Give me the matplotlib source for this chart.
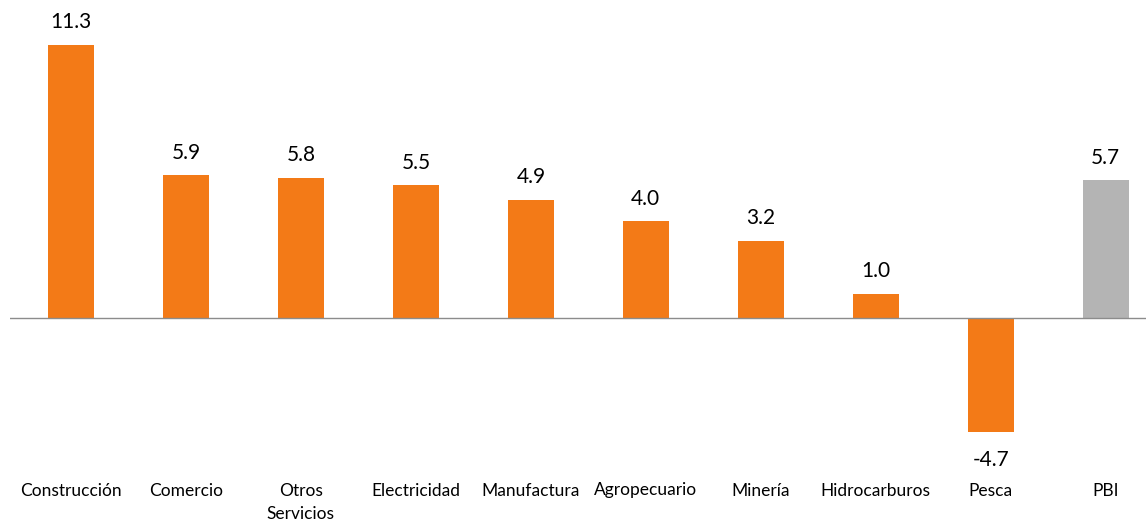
import numpy as np
from matplotlib import pyplot as plt

# Crecimiento por sectores (var. %)
sectores = ["Construcción", "Comercio", "Otros\nServicios", "Electricidad",
            "Manufactura", "Agropecuario", "Minería", "Hidrocarburos",
            "Pesca", "PBI"]
valores = [11.3, 5.9, 5.8, 5.5, 4.9, 4.0, 3.2, 1.0, -4.7, 5.7]

naranja = "#F37A17"
gris = "#B4B4B4"

plt.rcParams["font.family"] = ["Lato", "DejaVu Sans"]

fig = plt.figure(figsize=(11.48, 5.26), dpi=100)
ax = fig.add_axes([10/1148, 1 - 470/526, 1136/1148, 470/526])

x = np.arange(len(sectores))
colores = [naranja] * (len(sectores) - 1) + [gris]
ax.bar(x, valores, width=0.4, color=colores)

for xi, v in zip(x, valores):
    if v >= 0:
        ax.annotate("{:.1f}".format(v), (xi, v), xytext=(0, 9),
                    textcoords="offset points", ha="center", va="bottom",
                    fontsize=15)
    else:
        ax.annotate("{:.1f}".format(v), (xi, v), xytext=(0, -13),
                    textcoords="offset points", ha="center", va="top",
                    fontsize=15)

ax.axhline(0, color="#8C8C8C", lw=1)

ax.set_xlim(-0.53, 9.35)
ax.set_ylim(-6.29, 13.16)
ax.set_xticks(x)
ax.set_xticklabels(sectores, fontsize=12.5, linespacing=1.6)
ax.tick_params(axis="x", length=0, pad=9)
ax.set_yticks([])
for s in ax.spines.values():
    s.set_visible(False)

plt.savefig("out.png")
